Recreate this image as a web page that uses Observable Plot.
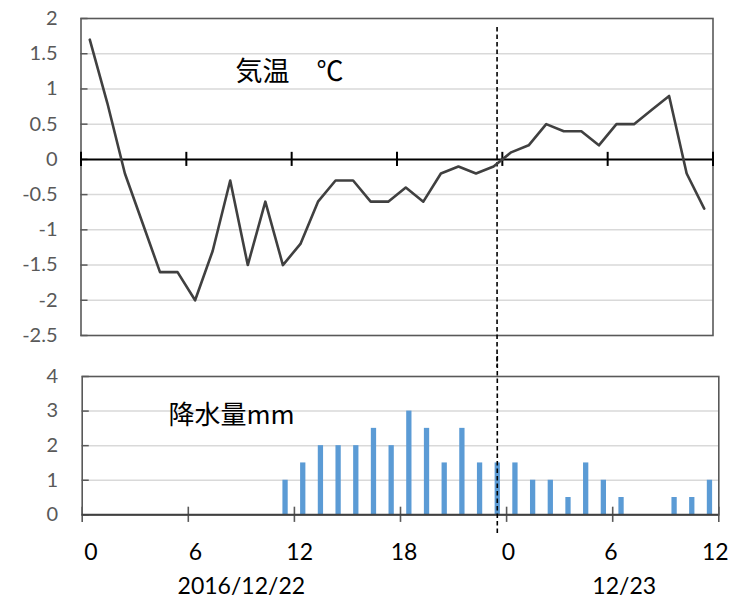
<!DOCTYPE html>
<html><head><meta charset="utf-8">
<script src="https://cdn.jsdelivr.net/npm/d3@7"></script>
<script src="https://cdn.jsdelivr.net/npm/@observablehq/plot@0.6"></script>
<style>
html,body{margin:0;padding:0;background:#fff;}
#wrap{position:relative;width:744px;height:606px;overflow:hidden;background:#fff;}
#wrap svg{position:absolute;left:0;overflow:visible;background:transparent;}
</style></head><body><div id="wrap"></div>
<script>
// hourly categories: 2016/12/22 0h .. 12/23 11h
const temperature = [1.7,0.8,-0.2,-0.9,-1.6,-1.6,-2.0,-1.3,-0.3,-1.5,-0.6,-1.5,-1.2,-0.6,-0.3,-0.3,-0.6,-0.6,
                     -0.4,-0.6,-0.2,-0.1,-0.2,-0.1,0.1,0.2,0.5,0.4,0.4,0.2,0.5,0.5,0.7,0.9,-0.2,-0.7];
const precipitation = [0,0,0,0,0,0,0,0,0,0,0,1,1.5,2,2,2,2.5,2,3,2.5,1.5,2.5,1.5,1.5,
                       1.5,1,1,0.5,1.5,1,0.5,0,0,0.5,0.5,1];
const tempTicks = [2,1.5,1,0.5,0,-0.5,-1,-1.5,-2,-2.5];
const tempGrid = [1.5,1,0.5,-0.5,-1,-1.5,-2];
const precipTicks = [0,1,2,3,4];
const precipGrid = [1,2,3];
const boundaryTicks = [0,6,12,18,24,30,36];
const xTickPos = [0,5.9,11.8,17.7,23.6,29.4,35.3];
const xTickLabels = ["0","6","12","18","0","6","12"];
const datePos = [8.5,30.15];
const dateLabels = ["2016/12/22","12/23"];
const dayBoundary = 23.7;
const tempTitle = "気温　℃";
const precipTitle = "降水量mm";

const tRows = temperature.map((t,i)=>({i,t}));
const pRows = precipitation.map((p,i)=>({i,p}));
const xLab = xTickPos.map((x,k)=>({x,label:xTickLabels[k]}));
const dLab = datePos.map((x,k)=>({x,label:dateLabels[k]}));
const fmt = d => String(d);

const topPlot = Plot.plot({
  width: 744, height: 360,
  marginLeft: 80.5, marginRight: 31.5, marginTop: 18, marginBottom: 25,
  x: {domain:[0,36], axis:null},
  y: {domain:[-2.5,2], axis:null},
  style: {fontFamily:"Lato", background:"transparent"},
  marks: [
    Plot.gridY(tempGrid, {stroke:"#d9d9d9", strokeOpacity:1, strokeWidth:1.5}),
    Plot.frame({stroke:"#595959", strokeWidth:1.6}),
    Plot.ruleY(tempTicks, {x1:0, x2:0.4, stroke:"#595959", strokeWidth:1.5}),
    Plot.axisY(tempTicks, {anchor:"left", label:null, tickSize:0, tickPadding:23.5, fontSize:20, fill:"#595959", tickFormat:fmt, fontFamily:"Lato"}),
    Plot.ruleY([0], {stroke:"#000", strokeWidth:2}),
    Plot.ruleX(boundaryTicks, {y1:-0.1, y2:0.1, stroke:"#000", strokeWidth:2}),
    Plot.ruleX([dayBoundary], {stroke:"#000", strokeWidth:1.6, strokeDasharray:"4.5,3", insetTop:9, insetBottom:-32}),
    Plot.line(tRows, {x:d=>d.i+0.5, y:"t", stroke:"#404040", strokeWidth:2.6}),
    Plot.text([tempTitle], {text:d=>d, frameAnchor:"top-left", dx:154.5, dy:54, textAnchor:"start", lineAnchor:"middle",
      fontSize:27, fontFamily:"Noto Sans CJK JP", fill:"#000"})
  ]
});

const botPlot = Plot.plot({
  width: 744, height: 246,
  marginLeft: 81.7, marginRight: 25.7, marginTop: 16, marginBottom: 91.7,
  x: {domain:[0,36], axis:null},
  y: {domain:[0,4], axis:null},
  style: {fontFamily:"Lato", background:"transparent"},
  marks: [
    Plot.gridY(precipGrid, {stroke:"#d9d9d9", strokeOpacity:1, strokeWidth:1.5}),
    Plot.rectY(pRows, {x1:"i", x2:d=>d.i+1, y:"p", fill:"#5b9bd5", insetLeft:6.2, insetRight:6.2}),
    Plot.frame({stroke:"#595959", strokeWidth:1.6}),
    Plot.ruleY(precipTicks, {x1:0, x2:0.4, stroke:"#595959", strokeWidth:1.5}),
    Plot.ruleX(boundaryTicks, {y1:-0.22, y2:0.22, stroke:"#595959", strokeWidth:1.6}),
    Plot.ruleY([0], {stroke:"#404040", strokeWidth:2}),
    Plot.axisY(precipTicks, {anchor:"left", label:null, tickSize:0, tickPadding:24, fontSize:20, fill:"#595959", tickFormat:fmt, fontFamily:"Lato"}),
    Plot.ruleX([dayBoundary], {stroke:"#000", strokeWidth:1.6, strokeDasharray:"4.5,3", dx:-4, insetTop:-20, insetBottom:-21}),
    Plot.text(xLab, {x:d=>d.x+0.5, y:0, text:"label", dy:38, fontSize:23, fill:"#000", fontFamily:"Lato", lineAnchor:"middle"}),
    Plot.text(dLab, {x:d=>d.x+0.5, y:0, text:"label", dy:72, fontSize:23, fill:"#000", fontFamily:"Lato", lineAnchor:"middle"}),
    Plot.text([precipTitle], {text:d=>d, frameAnchor:"top-left", dx:86.3, dy:39, textAnchor:"start", lineAnchor:"middle",
      fontSize:26, fontFamily:"Noto Sans CJK JP", fill:"#000"})
  ]
});

const wrap = document.getElementById("wrap");
topPlot.style.top = "0px";
botPlot.style.top = "360px";
wrap.appendChild(topPlot);
wrap.appendChild(botPlot);
</script>
</body></html>
